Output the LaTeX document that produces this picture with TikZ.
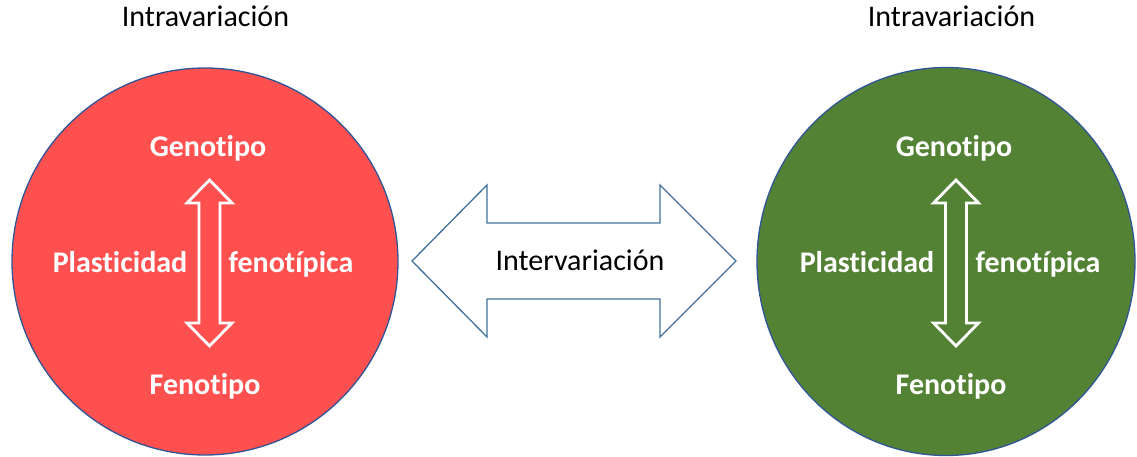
\documentclass[tikz,border=0pt]{standalone}
\usepackage{fontspec}
\setmainfont{Carlito}[Ligatures={NoCommon,NoRare,NoContextual}]
\usetikzlibrary{shapes.geometric}
\definecolor{cellred}{HTML}{FF5050}
\definecolor{cellgreen}{HTML}{548235}
\definecolor{edgeblue}{HTML}{2F5597}
\definecolor{arrowblue}{HTML}{41719C}
\begin{document}
\begin{tikzpicture}[
x=1pt, y=-1pt,
cellbox/.style={ellipse, draw=edgeblue, line width=1.3pt, inner sep=0pt},
celltext/.style={text=white, anchor=base, inner sep=0pt, font=\fontsize{30}{32}\selectfont\bfseries},
heading/.style={anchor=base, inner sep=0pt, font=\fontsize{30}{32}\selectfont},
flowline/.style={draw=white, line width=2.8pt, miter limit=4},
linkline/.style={draw=arrowblue, line width=1.3pt, fill=white}
]
\useasboundingbox (0,0) rectangle (1137,457);
% left cell
\node[cellbox, fill=cellred, minimum width=386pt, minimum height=387pt] (redcell) at (205,261.5) {};
\node[heading] (redtitle) at (205.5,27) {Intravariación};
\node[celltext] (redgeno) at (208,157) {Genotipo};
\node[celltext] (redfeno) at (205,394) {Fenotipo};
\node[celltext] (redplast) at (120,272) {Plasticidad};
\node[celltext] (redfenot) at (291,272) {fenotípica};
\coordinate (redflow) at (209.5,263);
\draw[flowline, shift={(redflow)}] (0,-83) -- (22.5,-60) -- (10.5,-60) -- (10.5,60) -- (22.5,60) -- (0,83)
  -- (-22.5,60) -- (-10.5,60) -- (-10.5,-60) -- (-22.5,-60) -- cycle;
% right cell
\node[cellbox, fill=cellgreen, minimum width=378pt, minimum height=388pt] (greencell) at (946,261.5) {};
\node[heading] (greentitle) at (951.5,27) {Intravariación};
\node[celltext] (greengeno) at (954,157) {Genotipo};
\node[celltext] (greenfeno) at (951,394) {Fenotipo};
\node[celltext] (greenplast) at (867,272) {Plasticidad};
\node[celltext] (greenfenot) at (1038,272) {fenotípica};
\coordinate (greenflow) at (956,263);
\draw[flowline, shift={(greenflow)}] (0,-83) -- (22.5,-60) -- (10.5,-60) -- (10.5,60) -- (22.5,60) -- (0,83)
  -- (-22.5,60) -- (-10.5,60) -- (-10.5,-60) -- (-22.5,-60) -- cycle;
% between the cells
\coordinate (link) at (574,261);
\draw[linkline, shift={(link)}] (-162,0) -- (-87,-76) -- (-87,-38) -- (86,-38) -- (86,-76) -- (162,0)
  -- (86,76) -- (86,38) -- (-87,38) -- (-87,76) -- cycle;
\node[heading] (linktext) at (580,270) {Intervariación};
\end{tikzpicture}
\end{document}
